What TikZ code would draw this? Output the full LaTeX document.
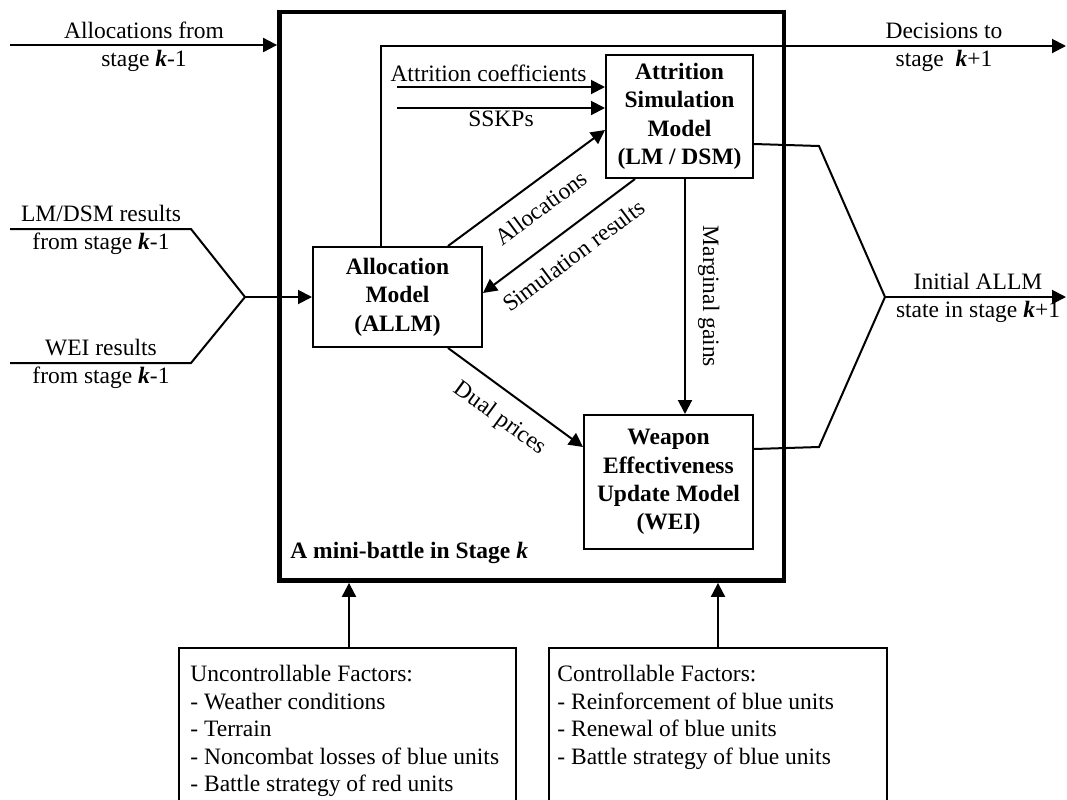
\documentclass[tikz,border=0pt]{standalone}
\usepackage{fontspec}
\setmainfont{Liberation Serif}
\usetikzlibrary{arrows.meta, positioning}

\newcommand{\stagek}{\textbf{\textit{k}}}

\begin{document}
\begin{tikzpicture}[
  x=0.5pt, y=-0.5pt,
  font=\fontsize{11.75}{14}\selectfont,
  model/.style={draw, line width=1pt, align=center, inner sep=0pt,
               font=\fontsize{11.75}{14.2}\selectfont\bfseries},
  flow/.style={line width=1pt},
  arr/.style={-{Triangle[length=7pt, width=7pt]}, line width=1pt},
  factbox/.style={draw, line width=1pt, minimum height=100pt, anchor=north west},
  facttext/.style={align=left, anchor=north west, inner sep=0pt,
               font=\fontsize{11.75}{13.75}\selectfont},
  lbl/.style={align=center, inner sep=0pt},
  slopelbl/.style={midway, sloped, below, inner sep=7.5pt}
]
\useasboundingbox (0,0) rectangle (1067,799);
\clip (0,0) rectangle (1067,799);

% the stage and its three models
\node[draw, line width=2.4pt, minimum width=252.25pt, minimum height=284.25pt] (battle) at (531.75,296.25) {};
\node[model, minimum width=84.5pt, minimum height=50pt] (allm) at (397.5,297) {Allocation\\Model\\(ALLM)};
\node[model, minimum width=73.5pt, minimum height=61.5pt, above right=33.5pt and 61pt of allm] (asm) {Attrition\\Simulation\\Model\\(LM / DSM)};
\node[model, minimum width=84.5pt, minimum height=67pt, below right=33pt and 50pt of allm] (wei) {Weapon\\Effectiveness\\Update Model\\(WEI)};
\node[anchor=west, inner sep=0pt, font=\fontsize{11.75}{14}\selectfont\bfseries] (stagelbl) at (290,553) {A mini-battle in Stage \stagek};

% inputs from stage k-1
\coordinate (inAlloc) at (10,45);
\coordinate (inLM) at (10,229);
\coordinate (inWEI) at (10,363);
\coordinate (kneeLM) at (191,229);
\coordinate (kneeWEI) at (191,363);
\coordinate (mergeL) at (245,297);

\draw[arr] (inAlloc) -- (inAlloc -| battle.west);
\draw[flow] (inLM) -- (kneeLM) -- (mergeL);
\draw[flow] (inWEI) -- (kneeWEI) -- (mergeL);
\draw[arr] (mergeL) -- (allm.west);

\node[lbl] (lblAlloc) at (144,47) {Allocations from\\stage \stagek-1};
\node[lbl] (lblLM) at (101,230) {LM/DSM results\\from stage \stagek-1};
\node[lbl] (lblWEIin) at (101,364) {WEI results\\from stage \stagek-1};

% inside the stage
\coordinate (inAC) at (397,87);
\coordinate (inSSKP) at (397,108);
\draw[arr] (inAC) -- (inAC -| asm.west) node[pos=0.44, above, inner sep=2pt] (lblAC) {Attrition coefficients};
\draw[arr] (inSSKP) -- (inSSKP -| asm.west) node[midway, below, inner sep=1pt] (lblSSKP) {SSKPs};
\draw[arr] ([xshift=25.25pt]allm.north) -- ([yshift=-6.75pt]asm.west) node[slopelbl] (lblAllocs) {Allocations};
\draw[arr] ([xshift=-22.25pt]asm.south) -- ([yshift=2pt]allm.east) node[slopelbl] (lblSim) {Simulation results};
\draw[arr] ([xshift=25.25pt]allm.south) -- ([yshift=17.5pt]wei.west) node[slopelbl] (lblDual) {Dual prices};
\draw[arr] ([xshift=2.75pt]asm.south) -- ([xshift=2.75pt]asm.south |- wei.north)
  node[midway, rotate=-90, anchor=south, inner sep=6pt] (lblMG) {Marginal gains};

% outputs to stage k+1
\coordinate (outDec) at (1066,46);
\coordinate (kneeASM) at (819,146);
\coordinate (kneeWEIout) at (819,447);
\coordinate (mergeR) at (885,297);
\coordinate (outInit) at (1066,297);

\draw[arr] ([xshift=-8.25pt]allm.north) |- (outDec);
\draw[flow] ([yshift=-13.75pt]asm.east) -- (kneeASM) -- (mergeR);
\draw[flow] ([yshift=16.5pt]wei.east) -- (kneeWEIout) -- (mergeR);
\draw[arr] (mergeR) -- (outInit);

\node[lbl] (lblDec) at (944,47) {Decisions to\\stage~~\stagek+1};
\node[lbl] (lblInit) at (978,298) {Initial ALLM\\state in stage \stagek+1};

% factors acting on the stage
\node[factbox, minimum width=168.5pt] (ubox) at (178,647) {};
\node[factbox, minimum width=169pt] (cbox) at (548,647) {};
\node[facttext] (utext) at (190,665) {Uncontrollable Factors:\\- Weather conditions\\- Terrain\\- Noncombat losses of blue units\\- Battle strategy of red units};
\node[facttext] (ctext) at (557,665) {Controllable Factors:\\- Reinforcement of blue units\\- Renewal of blue units\\- Battle strategy of blue units};

\draw[arr] ([xshift=0.75pt]ubox.north) -- ([xshift=0.75pt]ubox.north |- battle.south);
\draw[arr] (cbox.north) -- (cbox.north |- battle.south);
\end{tikzpicture}
\end{document}
